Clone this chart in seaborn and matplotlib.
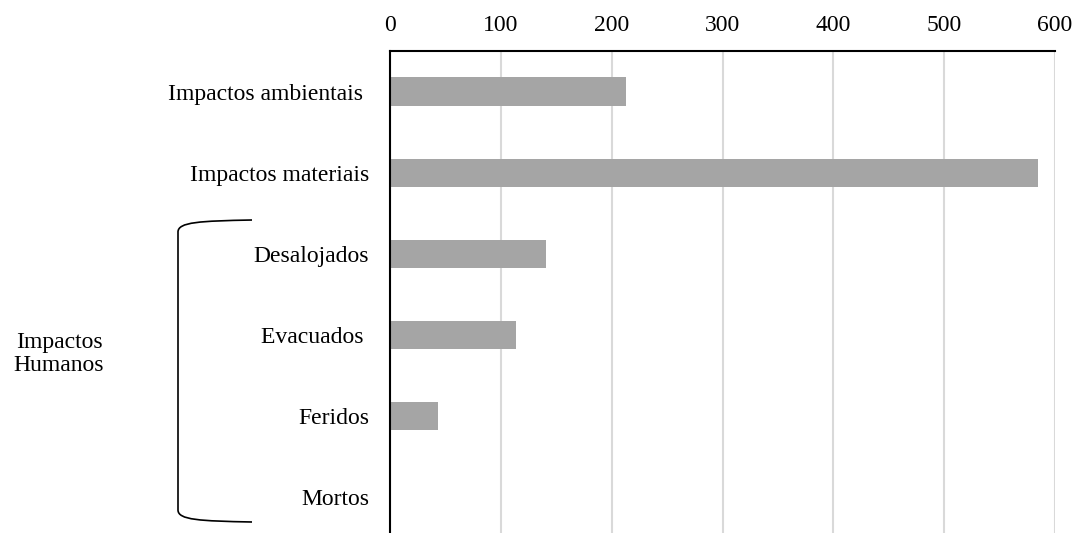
import matplotlib
matplotlib.use("Agg")
import matplotlib.pyplot as plt
from matplotlib.path import Path
from matplotlib.patches import PathPatch
import seaborn as sns
import pandas as pd

# Impact categories (top to bottom) and their counts
categories = ["Impactos ambientais ", "Impactos materiais", "Desalojados",
              "Evacuados ", "Feridos", "Mortos"]
values = [213, 585, 141, 114, 43, 0]
x_ticks = [0, 100, 200, 300, 400, 500, 600]
group_label = "Impactos\nHumanos"

sns.set_style("white")
plt.rcParams["font.family"] = ["Liberation Serif", "DejaVu Serif"]

W, H = 1076, 533
fig = plt.figure(figsize=(W / 100, H / 100), dpi=100)

def px(x, y):
    """Pixel position (from top-left) to figure fraction."""
    return x / W, 1 - y / H

left, top = px(390, 51)
right, bottom = px(1055, 538)
ax = fig.add_axes([left, bottom, right - left, top - bottom])

df = pd.DataFrame({"categoria": categories, "valor": values})
sns.barplot(data=df, y="categoria", x="valor", orient="h", color="#A5A5A5",
            saturation=1, width=0.35, linewidth=0, ax=ax)

ax.set_xlim(0, 600)
ax.set_xticks(x_ticks)
ax.set_xticklabels([str(t) for t in x_ticks])
ax.xaxis.tick_top()
ax.set_xlabel("")
ax.set_ylabel("")
ax.set_ylim(5.5, -0.5)

ax.xaxis.grid(True, color="#D9D9D9", linewidth=1.5)
ax.yaxis.grid(False)
ax.set_axisbelow(True)

for side in ("right", "bottom"):
    ax.spines[side].set_visible(False)
for side in ("left", "top"):
    ax.spines[side].set_visible(True)
    ax.spines[side].set_color("black")
    ax.spines[side].set_linewidth(1.5)

ax.tick_params(axis="x", length=0, pad=11, labelsize=17, colors="black")
ax.tick_params(axis="y", length=0, pad=15, labelsize=17, colors="black")

# Bracket grouping the human-impact rows
verts = [px(252, 220), px(200, 221), px(178, 222), px(178, 232),
         px(178, 510),
         px(178, 520), px(200, 521), px(252, 522)]
codes = [Path.MOVETO, Path.CURVE4, Path.CURVE4, Path.CURVE4,
         Path.LINETO,
         Path.CURVE4, Path.CURVE4, Path.CURVE4]
brace = PathPatch(Path(verts, codes), transform=fig.transFigure,
                  facecolor="none", edgecolor="black", linewidth=1.2)
fig.patches.append(brace)

tx, ty = px(59, 354)
fig.text(tx, ty, group_label, ha="center", va="center",
         multialignment="center", fontsize=17, color="black",
         linespacing=1.15)

fig.savefig("out.png", dpi=100)
